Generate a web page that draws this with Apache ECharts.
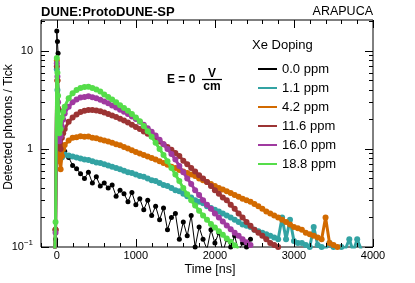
<!DOCTYPE html>
<html>
<head>
<meta charset="utf-8">
<script src="https://cdn.jsdelivr.net/npm/echarts@6/dist/echarts.min.js"></script>
<style>html,body{margin:0;padding:0;background:#fff}#c{width:415px;height:283px}</style>
</head>
<body>
<div id="c"></div>
<script>
const times = [-32,-16,0,8,16,32,48,64,80,
100,150,200,250,300,350,400,450,500,550,
600,650,700,750,800,850,900,950,1000,1050,
1100,1150,1200,1250,1300,1350,1400,1450,1500,1550,
1600,1650,1700,1750,1800,1850,1900,1950,2000,2050,
2100,2150,2200,2250,2300,2350,2400,2450,2500,2550,
2600,2650,2700,2750,2800,2850,2900,2950,3000,3050,
3100,3150,3200,3250,3300,3350,3400,3450,3500,3550,
3600,3650,3700,3750,3800,3850];

const ppm00 = [0.06,0.12,16,12.5,9.5,2.5,1.3,1.1,1.0,
0.95,0.82,0.68,0.63,0.56,0.5,0.58,0.45,0.52,0.42,
0.45,0.4,0.43,0.33,0.38,0.35,0.29,0.36,0.27,0.31,
0.24,0.3,0.21,0.26,0.19,0.25,0.15,0.2,0.22,0.12,
0.18,0.13,0.21,0.1,0.16,0.12,0.095,0.15,0.11,0.14,
0.09,0.12,0.1,0.13,0.09,0.11,0.1,0.12];

const ppm11 = [0.06,0.15,6.5,4.0,2.0,0.95,0.85,0.82,0.86,
0.88,0.86,0.84,0.82,0.8,0.78,0.77,0.75,0.73,0.72,
0.7,0.68,0.66,0.64,0.62,0.6,0.58,0.57,0.55,0.53,
0.52,0.5,0.48,0.47,0.45,0.43,0.42,0.4,0.38,0.37,
0.35,0.33,0.32,0.3,0.29,0.28,0.26,0.25,0.24,0.23,
0.22,0.21,0.2,0.19,0.18,0.17,0.165,0.16,0.15,0.145,
0.14,0.135,0.13,0.125,0.12,0.2,0.12,0.19,0.115,0.11,
0.11,0.105,0.1,0.16,0.105,0.1,0.095,0.11,0.1,0.095,
0.1,0.095,0.12,0.09,0.12,0.095];

const ppm42 = [0.06,0.15,8.0,5.0,2.0,0.75,0.62,0.85,1.0,
1.1,1.22,1.3,1.32,1.35,1.33,1.34,1.3,1.29,1.25,
1.22,1.19,1.16,1.12,1.09,1.05,1.01,0.97,0.93,0.9,
0.87,0.84,0.81,0.78,0.75,0.72,0.69,0.66,0.64,0.61,
0.59,0.57,0.55,0.53,0.5,0.48,0.46,0.44,0.42,0.4,
0.385,0.37,0.355,0.34,0.325,0.31,0.3,0.29,0.275,0.26,
0.245,0.23,0.22,0.21,0.2,0.19,0.18,0.17,0.16,0.155,
0.15,0.14,0.135,0.13,0.125,0.12,0.2,0.11,0.105,0.1];

const ppm116 = [0.06,0.15,7.0,5.0,2.6,1.05,1.0,1.3,1.45,
1.6,1.9,2.1,2.25,2.38,2.45,2.5,2.5,2.47,2.42,
2.35,2.28,2.2,2.12,2.03,1.95,1.86,1.77,1.68,1.6,
1.51,1.43,1.35,1.27,1.19,1.12,1.05,0.98,0.91,0.85,
0.76,0.7,0.64,0.59,0.54,0.5,0.46,0.42,0.38,0.35,
0.32,0.3,0.27,0.245,0.22,0.2,0.18,0.165,0.15,0.14,
0.13,0.12,0.11,0.105,0.1];

const ppm160 = [0.06,0.14,7.5,5.5,3.0,1.2,1.35,1.7,2.0,
2.3,2.7,3.0,3.2,3.35,3.4,3.45,3.38,3.3,3.18,
3.05,2.92,2.78,2.65,2.52,2.4,2.27,2.15,2.02,1.9,
1.77,1.63,1.5,1.37,1.24,1.12,1.0,0.89,0.78,0.67,
0.58,0.5,0.44,0.38,0.34,0.3,0.27,0.245,0.22,0.2,
0.182,0.166,0.152,0.14,0.13,0.12,0.112,0.105];

const ppm188 = [0.06,0.18,8.5,6.0,3.5,1.45,1.6,2.1,2.4,
2.7,3.3,3.7,4.0,4.2,4.3,4.32,4.2,4.05,3.85,
3.6,3.4,3.2,3.0,2.8,2.62,2.45,2.28,2.1,1.92,
1.72,1.52,1.33,1.16,1.0,0.87,0.75,0.64,0.55,0.47,
0.4,0.345,0.3,0.265,0.235,0.21,0.19,0.172,0.158,0.145,
0.133,0.122,0.113,0.104,0.097];

const seriesNames = ['0.0 ppm','1.1 ppm','4.2 ppm','11.6 ppm','16.0 ppm','18.8 ppm'];
const seriesValues = [ppm00, ppm11, ppm42, ppm116, ppm160, ppm188];
const seriesColors = ['#000000','#33a3a3','#d26a00','#9c3434','#a03aa0','#55dd4a'];

const xMajor = [0,1000,2000,3000,4000];
const xMinor = [-200,200,400,600,800,1200,1400,1600,1800,2200,2400,2600,2800,3200,3400,3600,3800];
const yMajor = [0.1,1,10];
const yMinor = [0.2,0.3,0.4,0.5,0.6,0.7,0.8,0.9,2,3,4,5,6,7,8,9,20];

const X_MIN = -200, X_MAX = 4000, Y_MIN = 0.1, Y_MAX = 20.7;
const FONT = 'Liberation Sans';
const chart = echarts.init(document.getElementById('c'), null, {renderer:'canvas'});

const series = seriesValues.map(function(vals, k){
  const black = k === 0;
  return {
    name: seriesNames[k], type:'line', xAxisIndex:0, yAxisIndex:0,
    data: vals.map(function(v,i){ return [times[i], v]; }),
    symbol:'circle', symbolSize: black ? 5 : 6, showSymbol:true,
    lineStyle:{color:seriesColors[k], width: black ? 1 : 3},
    itemStyle:{color:seriesColors[k]},
    clip:true, emphasis:{disabled:true}, z: 2 + k
  };
});

const texts = [
  {type:'text', x:41, y:12, style:{text:'DUNE:ProtoDUNE-SP', font:'bold 13px "Liberation Sans"', fill:'#000', textAlign:'left', textVerticalAlign:'middle'}},
  {type:'text', x:373, y:12, style:{text:'ARAPUCA', font:'12.5px "Liberation Sans"', fill:'#000', textAlign:'right', textVerticalAlign:'middle'}},
  {type:'text', x:9, y:127, rotation:Math.PI/2, style:{text:'Detected photons / Tick', font:'12px "Liberation Sans"', fill:'#000', textAlign:'center', textVerticalAlign:'middle'}},
  {type:'text', x:210, y:270, style:{text:'Time [ns]', font:'12.5px "Liberation Sans"', fill:'#000', textAlign:'center', textVerticalAlign:'middle'}},
  {type:'text', x:252, y:45, style:{text:'Xe Doping', font:'13px "Liberation Sans"', fill:'#000', textAlign:'left', textVerticalAlign:'middle'}},
  {type:'text', x:167, y:80, style:{text:'E = 0', font:'bold 12px "Liberation Sans"', fill:'#000', textAlign:'left', textVerticalAlign:'middle'}},
  {type:'text', x:212, y:73.5, style:{text:'V', font:'bold 12px "Liberation Sans"', fill:'#000', textAlign:'center', textVerticalAlign:'middle'}},
  {type:'line', shape:{x1:202, y1:79.5, x2:222, y2:79.5}, style:{stroke:'#000', lineWidth:1.2}},
  {type:'text', x:212, y:86.5, style:{text:'cm', font:'bold 12px "Liberation Sans"', fill:'#000', textAlign:'center', textVerticalAlign:'middle'}}
];

chart.setOption({
  animation:false,
  backgroundColor:'#fff',
  grid:{left:41, right:42, top:20, bottom:36, show:true, borderColor:'#000', borderWidth:1, backgroundColor:'transparent'},
  xAxis:{
    type:'value', min:X_MIN, max:X_MAX,
    axisLine:{show:false}, axisTick:{show:false}, splitLine:{show:false},
    axisLabel:{customValues:xMajor, color:'#000', fontSize:11, fontFamily:FONT, margin:3,
      formatter:function(v){ return String(v); }}
  },
  yAxis:{
    type:'log', logBase:10, min:Y_MIN, max:Y_MAX,
    axisLine:{show:false}, axisTick:{show:false}, splitLine:{show:false},
    axisLabel:{customValues:yMajor, color:'#000', fontSize:11, fontFamily:FONT, margin:8,
      formatter: function(v){ return v < 0.5 ? '{b|10}{s|\u22121}' : '{b|' + (v < 5 ? '1' : '10') + '}'; },
      rich:{ b:{fontSize:11, fontFamily:FONT, color:'#000', lineHeight:16}, s:{fontSize:8, fontFamily:FONT, color:'#000', verticalAlign:'top', lineHeight:9} }
    }
  },
  legend:{
    show:true, orient:'vertical', left:253, top:54.5, itemWidth:19, itemHeight:2, itemGap:0,
    icon:'rect', data: seriesNames,
    textStyle:{color:'#000', fontSize:13, fontFamily:FONT, lineHeight:19}
  },
  series: series
});

// Axis ticks on all four sides, placed with the chart's own scales
const ticks = [];
function seg(x1, y1, x2, y2) {
  ticks.push({type:'line', silent:true, z:100, shape:{x1:x1, y1:y1, x2:x2, y2:y2}, style:{stroke:'#000', lineWidth:1}});
}
function addX(v, L) {
  const b = chart.convertToPixel({gridIndex:0}, [v, Y_MIN]);
  const t = chart.convertToPixel({gridIndex:0}, [v, Y_MAX]);
  const x = Math.round(b[0]) + 0.5;
  seg(x, b[1], x, b[1] - L); seg(x, t[1], x, t[1] + L);
}
function addY(v, L) {
  const l = chart.convertToPixel({gridIndex:0}, [X_MIN, v]);
  const r = chart.convertToPixel({gridIndex:0}, [X_MAX, v]);
  const y = Math.round(l[1]) + 0.5;
  seg(l[0], y, l[0] + L, y); seg(r[0], y, r[0] - L, y);
}
xMajor.forEach(function(v){ addX(v, 8); });
xMinor.forEach(function(v){ addX(v, 4); });
yMajor.forEach(function(v){ addY(v, 8); });
yMinor.forEach(function(v){ addY(v, 4); });

chart.setOption({ graphic: ticks.concat(texts) });
</script>
</body>
</html>
